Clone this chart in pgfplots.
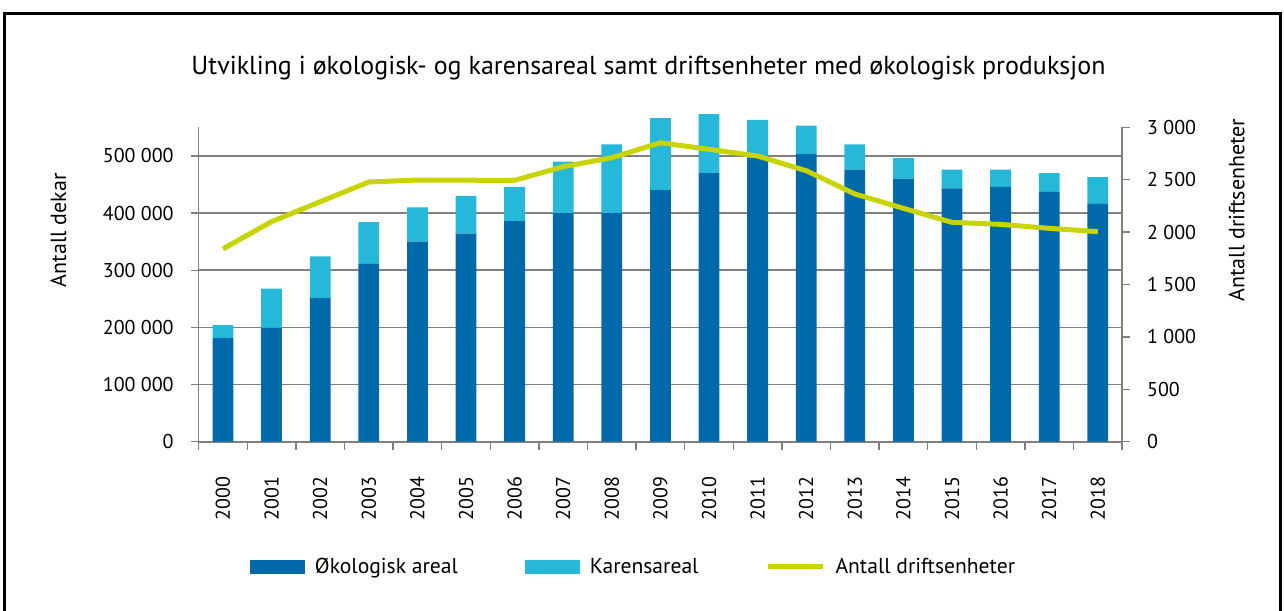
\documentclass[border=0pt]{standalone}
\usepackage{fontspec}
\setmainfont{PT Sans}
\usepackage{pgfplots}
\pgfplotsset{compat=1.18}
\usepackage{pgfplotstable}

\definecolor{okoblue}{RGB}{0,105,170}
\definecolor{karen}{RGB}{37,184,216}
\definecolor{drift}{RGB}{200,212,0}
\definecolor{gridgray}{RGB}{128,128,128}

% year, okologisk areal, karensareal (dekar), driftsenheter
\pgfplotstableread{
x  year oko    karen  drift
0  2000 181000 23000  1840
1  2001 199000 69000  2100
2  2002 251000 73000  2290
3  2003 311000 73000  2478
4  2004 350000 60000  2497
5  2005 364000 66000  2495
6  2006 386000 60000  2494
7  2007 400000 90000  2624
8  2008 400000 120000 2710
9  2009 440000 126000 2853
10 2010 470000 103000 2790
11 2011 497000 66000  2726
12 2012 503000 50000  2586
13 2013 476000 44000  2364
14 2014 460000 36000  2227
15 2015 443000 33000  2093
16 2016 446000 30000  2074
17 2017 437000 33000  2036
18 2018 416000 47000  2004
}\datatable

\pgfplotsset{
  common/.style={
    at={(0,0)}, anchor=south west,
    scale only axis, width=461.7pt, height=157.2pt,
    xmin=-0.5, xmax=18.5,
    scaled y ticks=false,
    tick style={gridgray, line width=0.7pt},
    axis line style={gridgray, line width=0.8pt},
    tick align=outside,
    ticklabel style={font=\fontsize{10}{12}\selectfont},
    label style={font=\fontsize{11}{13}\selectfont},
  }
}

\begin{document}
\begin{tikzpicture}
\path[use as bounding box] (-99.35pt,-84.15pt) rectangle (542.65pt,220.85pt);
\draw[line width=1.5pt] (-96.85pt,-90pt) -- (-96.85pt,213.85pt) -- (540.65pt,213.85pt) -- (540.65pt,-90pt);
\node[font=\fontsize{13}{15}\selectfont] at (224.9pt,186.85pt)
  {Utvikling i økologisk- og karensareal samt driftsenheter med økologisk produksjon};

\begin{axis}[
  common,
  clip=false,
  axis y line*=left, axis x line*=bottom,
  ybar stacked, bar width=10.4pt,
  ymin=0, ymax=550000,
  ytick={0,100000,200000,300000,400000,500000},
  yticklabels={0,100 000,200 000,300 000,400 000,500 000},
  yticklabel style={xshift=-5pt},
  ymajorgrids, grid style={gridgray, line width=0.8pt},
  xtick={0,...,18},
  xticklabels={2000,2001,2002,2003,2004,2005,2006,2007,2008,2009,2010,2011,2012,2013,2014,2015,2016,2017,2018},
  major x tick style={draw=none},
  minor xtick={-0.5,0.5,...,18.5},
  minor tick length=4pt,
  major tick length=4pt,
  xticklabel style={rotate=90, anchor=east, xshift=-10pt},
  ylabel={Antall dekar},
  ylabel style={at={(axis description cs:-0.152,0.673)}, anchor=center},
  legend columns=3,
  legend style={at={(axis description cs:0.472,-0.3985)}, anchor=center, draw=none,
    font=\fontsize{10.8}{13}\selectfont,
    /tikz/every odd column/.append style={column sep=3pt},
    /tikz/every even column/.append style={column sep=31.5pt}},
]
\addplot[fill=okoblue, draw=none,
  legend image code/.code={\fill[okoblue] (0pt,-3.5pt) rectangle (27.5pt,3.5pt);}]
  table[x=x, y=oko] {\datatable};
\addlegendentry{Økologisk areal}
\addplot[fill=karen, draw=none,
  legend image code/.code={\fill[karen] (0pt,-3.5pt) rectangle (27.5pt,3.5pt);}]
  table[x=x, y=karen] {\datatable};
\addlegendentry{Karensareal}
\addlegendimage{drift, line width=2.5pt, legend image code/.code={\draw[drift, line width=2.5pt] (0pt,0pt) -- (27.5pt,0pt);}}
\addlegendentry{Antall driftsenheter}
\end{axis}

\begin{axis}[
  common,
  axis y line*=right, axis x line=none,
  ymin=0, ymax=3000,
  ytick={0,500,1000,1500,2000,2500,3000},
  yticklabels={0,500,1 000,1 500,2 000,2 500,3 000},
  yticklabel style={xshift=5pt},
  major tick length=4pt,
  ylabel={Antall driftsenheter},
  ylabel style={at={(axis description cs:1.124,0.737)}, anchor=center},
]
\addplot[drift, line width=2.5pt, mark=none] table[x=x, y=drift] {\datatable};
\end{axis}
\end{tikzpicture}
\end{document}
